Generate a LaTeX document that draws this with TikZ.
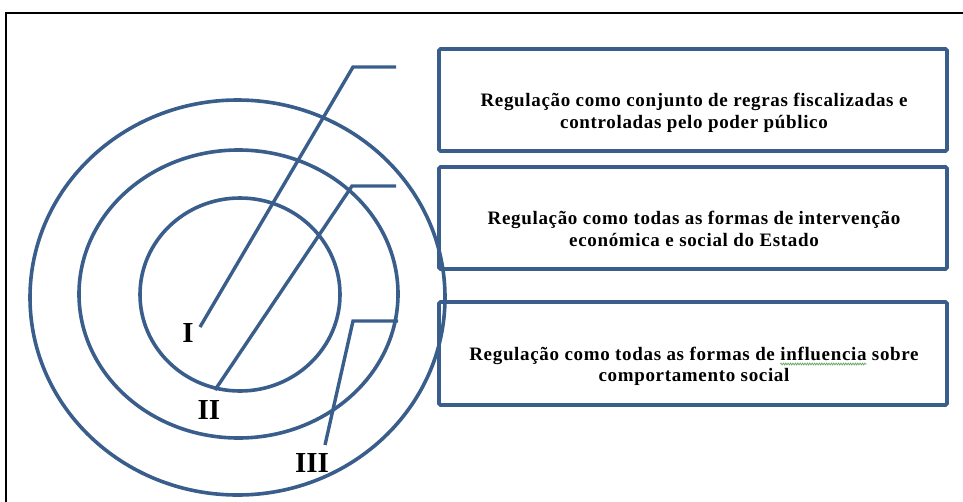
\documentclass[tikz,border=0pt]{standalone}
\usepackage{fontspec}
\setmainfont{Liberation Serif}
\newfontfamily\boxfont[LetterSpace=3.5]{Liberation Serif}
\usetikzlibrary{shapes.geometric,decorations.pathmorphing}
\definecolor{rb}{HTML}{3A5E8C}
\definecolor{spell}{HTML}{5BA85B}
\newsavebox\wavebox
\newcommand\gwave[1]{\sbox\wavebox{#1}\usebox\wavebox\hspace{-\wd\wavebox}\makebox[\wd\wavebox][l]{\tikz[overlay]\draw[spell, line width=0.7pt, decorate, decoration={zigzag, amplitude=0.9pt, segment length=2.4pt}] (0pt,-3.8pt) -- (\wd\wavebox,-3.8pt);}}
\tikzset{
  ring/.style={ellipse, draw=rb, line width=3.6pt, inner sep=0pt},
  lead/.style={draw=rb, line width=3.4pt, line join=miter},
  boxst/.style={draw=rb, line width=3.8pt, rounded corners=1.5pt, minimum width=508pt, inner sep=0pt},
  boxtext/.style={font=\boxfont\bfseries\fontsize{19}{22}\selectfont, inner sep=0pt, anchor=base},
  roman/.style={font=\bfseries\fontsize{29}{29}\selectfont, inner sep=0pt},
  frame/.style={draw=black, line width=2pt}
}
\begin{document}
\begin{tikzpicture}[x=1pt,y=-1pt]
\useasboundingbox (0,0) rectangle (963,501);
% outer frame
\coordinate (fbl) at (6,505);
\coordinate (ftl) at (6,13);
\coordinate (ftr) at (967,13);
\draw[frame] (fbl) -- (ftl) -- (ftr);
% concentric rings
\node[ring, minimum width=415pt, minimum height=395pt] (c3) at (237.5,297.5) {};
\node[ring, minimum width=319pt, minimum height=288pt] (c2) at (238.5,294) {};
\node[ring, minimum width=200pt, minimum height=193pt] (c1) at (240,294.5) {};
% boxes
\node[boxst, minimum height=102pt] (b1) at (693,100) {};
\node[boxst, minimum height=102pt] (b2) at (693,218) {};
\node[boxst, minimum height=103pt] (b3) at (693,353.5) {};
\node[boxtext] (t1a) at (694,106.7) {Regulação como conjunto de regras fiscalizadas e};
\node[boxtext] (t1b) at (694,128.3) {controladas pelo poder público};
\node[boxtext] (t2a) at (694,224.7) {Regulação como todas as formas de intervenção};
\node[boxtext] (t2b) at (694,246.3) {económica e social do Estado};
\node[boxtext] (t3a) at (694,360.2) {Regulação como todas as formas de \gwave{influencia} sobre};
\node[boxtext] (t3b) at (694,381.8) {comportamento social};
% roman labels
\node[roman] (l1) at (188,333) {I};
\node[roman] (l2) at (209,410) {II};
\node[roman] (l3) at (312,463) {III};
% leader lines
\coordinate (a1) at (200,327);
\coordinate (k1) at (353,67);
\coordinate (e1) at (396,67);
\coordinate (a2) at (215,390);
\coordinate (k2) at (352,186);
\coordinate (e2) at (396,186);
\coordinate (a3) at (325,445);
\coordinate (k3) at (353,321);
\coordinate (e3) at (398,321);
\draw[lead] (a1) -- (k1) -- (e1);
\draw[lead] (a2) -- (k2) -- (e2);
\draw[lead] (a3) -- (k3) -- (e3);
\end{tikzpicture}
\end{document}
